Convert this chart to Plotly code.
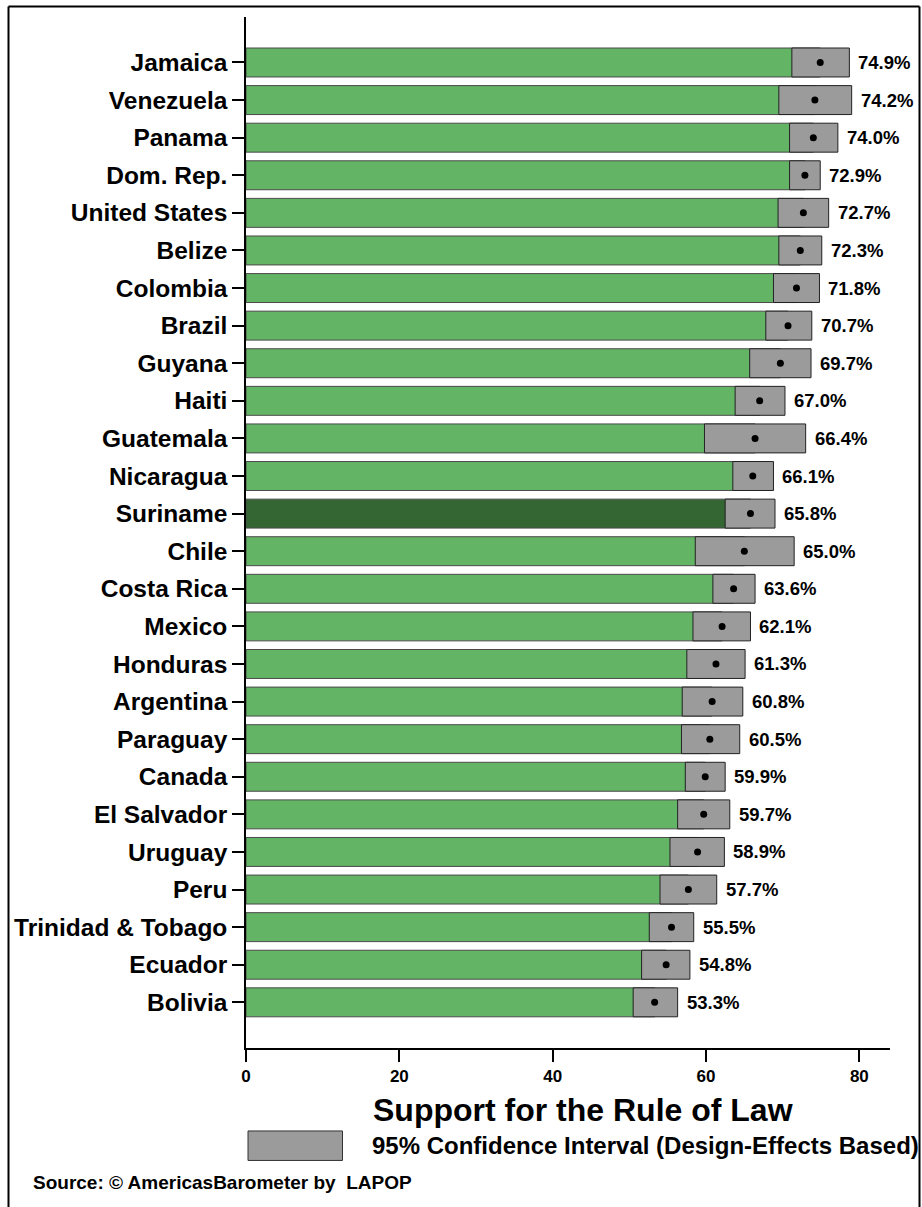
import plotly.graph_objects as go

countries = ["Jamaica", "Venezuela", "Panama", "Dom. Rep.", "United States", "Belize",
             "Colombia", "Brazil", "Guyana", "Haiti", "Guatemala", "Nicaragua", "Suriname",
             "Chile", "Costa Rica", "Mexico", "Honduras", "Argentina", "Paraguay", "Canada",
             "El Salvador", "Uruguay", "Peru", "Trinidad & Tobago", "Ecuador", "Bolivia"]
values = [74.9, 74.2, 74.0, 72.9, 72.7, 72.3, 71.8, 70.7, 69.7, 67.0, 66.4, 66.1, 65.8,
          65.0, 63.6, 62.1, 61.3, 60.8, 60.5, 59.9, 59.7, 58.9, 57.7, 55.5, 54.8, 53.3]
ci_low = [71.2, 69.5, 70.9, 70.9, 69.4, 69.5, 68.8, 67.8, 65.7, 63.8, 59.8, 63.5, 62.5,
          58.6, 60.9, 58.3, 57.5, 56.9, 56.8, 57.3, 56.3, 55.3, 54.0, 52.6, 51.6, 50.5]
ci_high = [78.7, 79.0, 77.2, 74.9, 76.0, 75.1, 74.8, 73.8, 73.7, 70.3, 73.0, 68.8, 69.0,
           71.5, 66.4, 65.8, 65.1, 64.8, 64.4, 62.5, 63.1, 62.4, 61.4, 58.4, 57.9, 56.3]
highlight = "Suriname"
x_ticks = [0, 20, 40, 60, 80]

GREEN = "#63b465"
DARK_GREEN = "#336633"
GRAY = "#9b9b9b"
FONT = "Liberation Sans, Arial, sans-serif"

W, H = 922, 1207
L, R = 246, 890          # plot area in pixels
T, B = 17, 1048.5


def px(xp):
    return (xp - L) / (R - L)


def py(yp):
    return (B - yp) / (B - T)


labels = [f"{v:.1f}%" for v in values]
bar_colors = [DARK_GREEN if c == highlight else GREEN for c in countries]

fig = go.Figure()
fig.add_trace(go.Bar(
    y=countries, x=values, orientation="h", width=0.77,
    marker=dict(color=bar_colors, line=dict(color="#4a4a4a", width=1)),
    showlegend=False, hoverinfo="skip"))
fig.add_trace(go.Bar(
    y=countries, x=[h - l for h, l in zip(ci_high, ci_low)], base=ci_low,
    orientation="h", width=0.77,
    marker=dict(color=GRAY, line=dict(color="#222222", width=1)),
    showlegend=False, hoverinfo="skip"))
fig.add_trace(go.Scatter(
    y=countries, x=values, mode="markers",
    marker=dict(color="black", size=7),
    showlegend=False, hoverinfo="skip"))

for c, hi, lab in zip(countries, ci_high, labels):
    fig.add_annotation(x=hi, y=c, text=lab, xanchor="left", yanchor="middle",
                       xshift=7, showarrow=False,
                       font=dict(family=FONT, size=18.5, color="black", weight="bold"))

n = len(countries)
fig.update_layout(
    width=W, height=H,
    margin=dict(l=L, r=W - R, t=T, b=H - B, pad=0),
    paper_bgcolor="white", plot_bgcolor="white",
    barmode="overlay", bargap=0.23,
    xaxis=dict(range=[0, 84], tickvals=x_ticks, ticks="outside", ticklen=12,
               tickwidth=1.5, tickcolor="black", showline=True, linecolor="black",
               linewidth=1.5, showgrid=False, zeroline=False,
               tickfont=dict(family=FONT, size=17, color="black", weight="bold")),
    yaxis=dict(type="category", categoryorder="array", categoryarray=countries,
               range=[n - 1 + 1.215, -1.21], ticks="outside", ticklen=12,
               tickwidth=1.5, tickcolor="black", showline=True, linecolor="black",
               linewidth=1.5, showgrid=False, zeroline=False,
               tickfont=dict(family=FONT, size=24.5, color="black", weight="bold")),
)

# axis title
fig.add_annotation(xref="paper", yref="paper", x=px(583), y=py(1111),
                   text="Support for the Rule of Law", showarrow=False,
                   xanchor="center", yanchor="middle",
                   font=dict(family=FONT, size=32, color="black", weight="bold"))
# legend swatch + text
fig.add_shape(type="rect", xref="paper", yref="paper",
              x0=px(248), x1=px(342.5), y0=py(1161), y1=py(1131.5),
              fillcolor=GRAY, line=dict(color="#333333", width=1))
fig.add_annotation(xref="paper", yref="paper", x=px(370), y=py(1146.5),
                   text="95% Confidence Interval (Design-Effects Based)",
                   showarrow=False, xanchor="left", yanchor="middle",
                   font=dict(family=FONT, size=24, color="black", weight="bold"))
# source
fig.add_annotation(xref="paper", yref="paper", x=px(31), y=py(1183),
                   text="Source: © AmericasBarometer by\u00a0 LAPOP",
                   showarrow=False, xanchor="left", yanchor="middle",
                   font=dict(family=FONT, size=19, color="black", weight="bold"))
# outer frame (drawn as four lines)
fl, fr, ft, fb = px(8.5), px(919.5), py(6.5), py(1215)
frame_line = dict(color="black", width=2)
for x0, y0, x1, y1 in [(fl, ft, fr, ft), (fl, ft, fl, fb), (fr, ft, fr, fb)]:
    fig.add_shape(type="line", xref="paper", yref="paper",
                  x0=x0, y0=y0, x1=x1, y1=y1, line=frame_line)

fig.write_html("out.html",
               config={"displayModeBar": False},
               post_script="document.body.style.margin='0';"
                           "document.body.style.overflow='hidden';")
